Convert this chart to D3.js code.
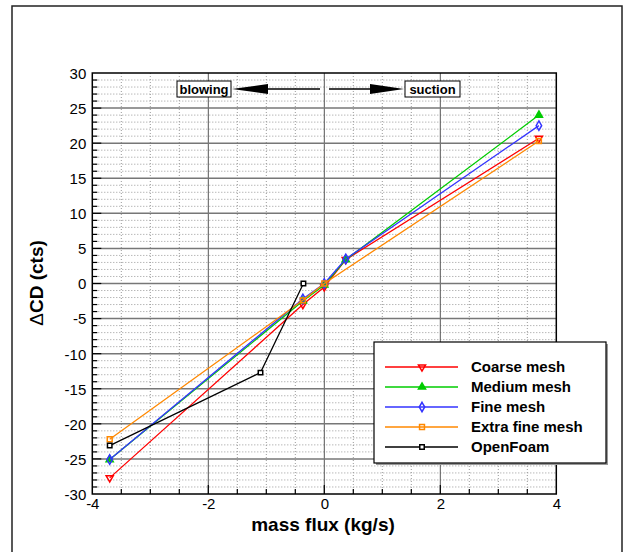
<!DOCTYPE html>
<html>
<head>
<meta charset="utf-8">
<script src="https://cdn.jsdelivr.net/npm/d3@7"></script>
<style>
  body { margin: 0; background: #fff; }
  text { font-family: "Liberation Sans", Arial, sans-serif; }
</style>
</head>
<body>
<svg id="chart" width="633" height="552"></svg>
<script>
// data
const massFlux = [-3.7, -0.37, 0, 0.37, 3.7];
const coarseMesh = [-27.7, -3.0, -0.5, 3.4, 20.7];
const mediumMesh = [-25.1, -2.5, -0.2, 3.4, 24.0];
const fineMesh = [-25.1, -2.2, 0, 3.5, 22.5];
const extraFineX = [-3.7, -0.37, 0, 3.7];
const extraFineMesh = [-22.2, -2.4, 0, 20.3];
const openFoamX = [-3.7, -1.1, -0.36];
const openFoam = [-23.1, -12.7, 0];
const seriesNames = ["Coarse mesh", "Medium mesh", "Fine mesh", "Extra fine mesh", "OpenFoam"];
const xTicks = [-4, -2, 0, 2, 4];
const yTicks = [-30, -25, -20, -15, -10, -5, 0, 5, 10, 15, 20, 25, 30];

const svg = d3.select("#chart");
let x = d3.scaleLinear().domain([-4, 4]).range([92.3, 556.3]);
let y = d3.scaleLinear().domain([-30, 30]).range([494, 73]);

svg.append("rect").attr("width", 633).attr("height", 552).attr("fill", "#fff");
// outer frame
svg.append("rect")
  .attr("x", 12).attr("y", 6).attr("width", 610).attr("height", 570)
  .attr("fill", "none").attr("stroke", "#222").attr("stroke-width", 1.5);

/* grid */
const grid = svg.append("g");
grid.selectAll(".vminor").data(d3.range(-3.5, 4, 0.5).filter(v => v % 2 !== 0))
  .enter().append("line")
  .attr("x1", d => x(d)).attr("x2", d => x(d))
  .attr("y1", y(30)).attr("y2", y(-30))
  .attr("stroke", "#999").attr("stroke-width", 1).attr("stroke-dasharray", "1,2");
grid.selectAll(".hminor").data(d3.range(-29, 30, 1).filter(v => v % 5 !== 0))
  .enter().append("line")
  .attr("x1", x(-4)).attr("x2", x(4))
  .attr("y1", d => y(d)).attr("y2", d => y(d))
  .attr("stroke", "#999").attr("stroke-width", 1).attr("stroke-dasharray", "1,2");
grid.selectAll(".vmajor").data([-2, 0, 2])
  .enter().append("line")
  .attr("x1", d => x(d)).attr("x2", d => x(d))
  .attr("y1", y(30)).attr("y2", y(-30))
  .attr("stroke", "#555").attr("stroke-width", 1);
grid.selectAll(".hmajor").data(yTicks.slice(1, -1))
  .enter().append("line")
  .attr("x1", x(-4)).attr("x2", x(4))
  .attr("y1", d => y(d)).attr("y2", d => y(d))
  .attr("stroke", "#777").attr("stroke-width", 1.5);

/* axes */
let xAxis = d3.axisBottom(x).tickValues(xTicks).tickSize(0).tickPadding(4).tickFormat(d => String(d));
let yAxis = d3.axisLeft(y).tickValues(yTicks).tickSize(0).tickPadding(6).tickFormat(d => String(d));
const gx = svg.append("g").attr("transform", "translate(0," + y(-30) + ")").call(xAxis);
const gy = svg.append("g").attr("transform", "translate(" + x(-4) + ",0)").call(yAxis);
[gx, gy].forEach(g => {
  g.select(".domain").remove();
  g.selectAll("text").attr("font-size", 15).attr("fill", "#000")
    .style("font-family", "'Liberation Sans', Arial, sans-serif");
});
gy.selectAll("text").attr("dy", "0.36em");

// tick marks inside the frame
svg.selectAll(".xt").data(d3.range(-3.5, 4, 0.5)).enter().append("line")
  .attr("x1", d => x(d)).attr("x2", d => x(d))
  .attr("y1", y(-30)).attr("y2", d => y(-30) - (d % 2 === 0 ? 9 : 5))
  .attr("stroke", "#000").attr("stroke-width", 1.2);
svg.selectAll(".yt").data(d3.range(-29, 30, 1)).enter().append("line")
  .attr("x1", x(-4)).attr("x2", d => x(-4) + (d % 5 === 0 ? 9 : 5))
  .attr("y1", d => y(d)).attr("y2", d => y(d))
  .attr("stroke", "#000").attr("stroke-width", 1.2);

svg.append("rect")
  .attr("x", x(-4)).attr("y", y(30))
  .attr("width", x(4) - x(-4)).attr("height", y(-30) - y(30))
  .attr("fill", "none").attr("stroke", "#000").attr("stroke-width", 1.5);

/* axis labels */
svg.append("text").text("mass flux (kg/s)")
  .attr("x", 323).attr("y", 531).attr("text-anchor", "middle")
  .attr("font-size", 19).attr("font-weight", "bold");
svg.append("text")
  .attr("transform", "translate(43,283) rotate(-90)")
  .attr("text-anchor", "middle").attr("font-size", 19).attr("font-weight", "bold")
  .html('<tspan font-weight="normal">Δ</tspan>CD (cts)');

/* annotations */
function labelBox(txt, x0, w) {
  svg.append("rect").attr("x", x0).attr("y", 81).attr("width", w).attr("height", 16)
    .attr("fill", "#fff").attr("stroke", "#000").attr("stroke-width", 1);
  svg.append("text").text(txt).attr("x", x0 + w / 2).attr("y", 94)
    .attr("text-anchor", "middle").attr("font-size", 13).attr("font-weight", "bold");
}
labelBox("blowing", 177, 54);
labelBox("suction", 405, 55);
svg.append("line").attr("x1", 262).attr("x2", 320).attr("y1", 89).attr("y2", 89)
  .attr("stroke", "#000").attr("stroke-width", 1.5);
svg.append("line").attr("x1", 329).attr("x2", 375).attr("y1", 89).attr("y2", 89)
  .attr("stroke", "#000").attr("stroke-width", 1.5);
svg.append("path").attr("d", "M232,89 L268,84 L268,94 Z").attr("fill", "#000");
svg.append("path").attr("d", "M404,89 L370,84 L370,94 Z").attr("fill", "#000");

/* series */
const styles = [
  {color: "#ff0000", sym: d3.symbolTriangle, rot: 180, fill: "none", size: 22},
  {color: "#00cc00", sym: d3.symbolTriangle, rot: 0, fill: "#00cc00", size: 22},
  {color: "#3333ff", sym: d3.symbolDiamond, rot: 0, fill: "none", size: 26},
  {color: "#ff8800", sym: d3.symbolSquare, rot: 0, fill: "none", size: 24},
  {color: "#000000", sym: d3.symbolSquare, rot: 0, fill: "#fff", size: 20}
];
const series = [
  massFlux.map((v, i) => [v, coarseMesh[i]]),
  massFlux.map((v, i) => [v, mediumMesh[i]]),
  massFlux.map((v, i) => [v, fineMesh[i]]),
  extraFineX.map((v, i) => [v, extraFineMesh[i]]),
  openFoamX.map((v, i) => [v, openFoam[i]])
];
const line = d3.line().x(d => x(d[0])).y(d => y(d[1]));

series.forEach((pts, k) => {
  const s = styles[k];
  svg.append("path").datum(pts).attr("d", line)
    .attr("fill", "none").attr("stroke", s.color).attr("stroke-width", 1.3);
  svg.selectAll(".m" + k).data(pts).enter().append("path")
    .attr("d", d3.symbol().type(s.sym).size(s.size))
    .attr("transform", d => "translate(" + x(d[0]) + "," + y(d[1]) + ") rotate(" + s.rot + ")")
    .attr("fill", s.fill).attr("stroke", s.color).attr("stroke-width", 1.5);
});

/* legend */
const legend = svg.append("g");
legend.append("rect").attr("x", 376).attr("y", 344).attr("width", 232).attr("height", 121)
  .attr("fill", "#999");
legend.append("rect").attr("x", 374).attr("y", 342).attr("width", 232).attr("height", 121)
  .attr("fill", "#fff").attr("stroke", "#000").attr("stroke-width", 1.2);
seriesNames.forEach((name, k) => {
  const s = styles[k];
  const ly = 367 + k * 20;
  legend.append("line").attr("x1", 385).attr("x2", 458).attr("y1", ly).attr("y2", ly)
    .attr("stroke", s.color).attr("stroke-width", 1.5);
  legend.append("path").attr("d", d3.symbol().type(s.sym).size(s.size))
    .attr("transform", "translate(422," + ly + ") rotate(" + s.rot + ")")
    .attr("fill", s.fill).attr("stroke", s.color).attr("stroke-width", 1.5);
  legend.append("text").text(name).attr("x", 471).attr("y", ly + 5)
    .attr("font-size", 15).attr("font-weight", "bold");
});
</script>
</body>
</html>
